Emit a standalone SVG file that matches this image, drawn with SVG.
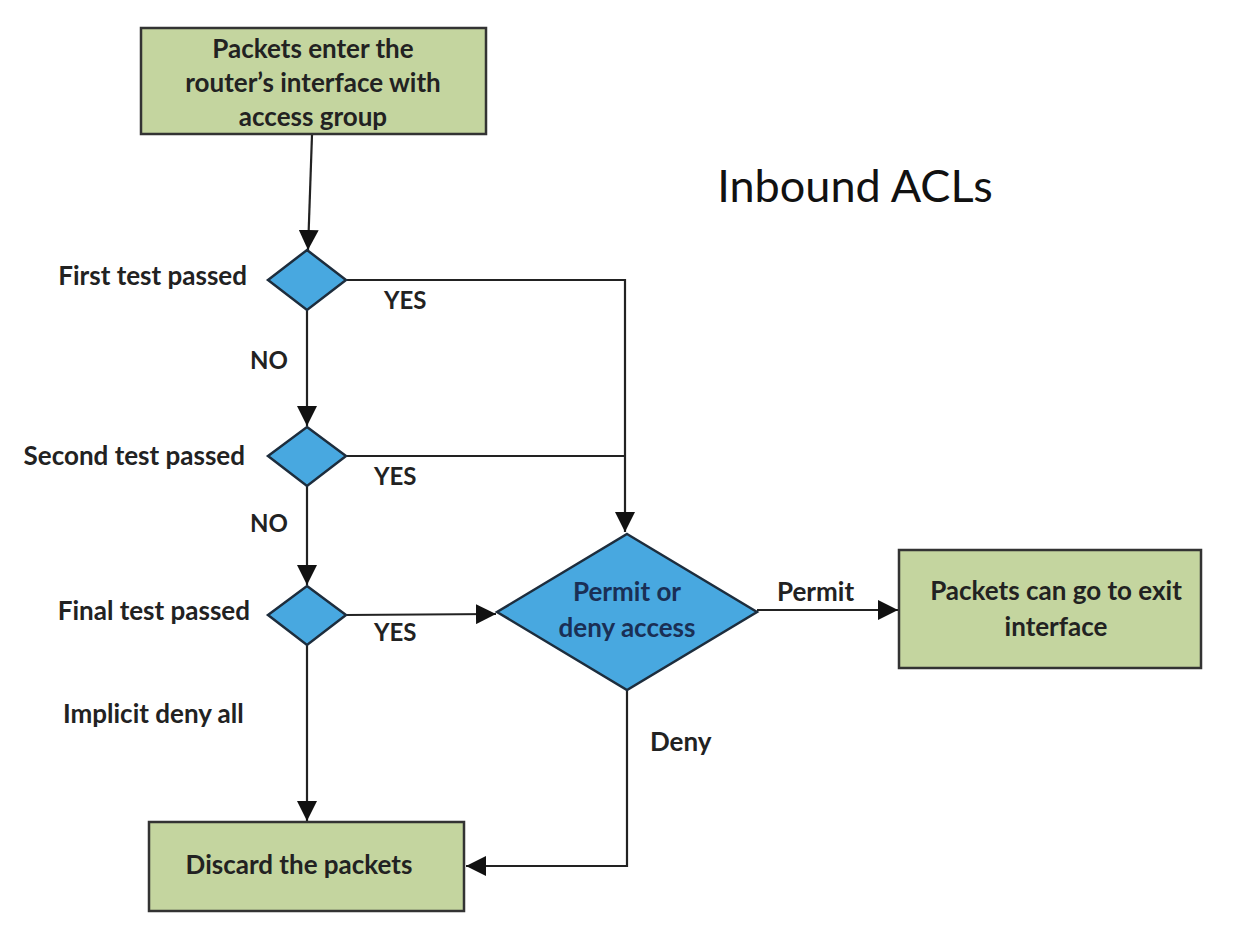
<svg xmlns="http://www.w3.org/2000/svg" width="1240" height="932" viewBox="0 0 1240 932">
<defs>
<marker id="ah" viewBox="0 0 10 10" refX="10" refY="5" markerWidth="20" markerHeight="20" markerUnits="userSpaceOnUse" orient="auto">
<path d="M0,0 L10,5 L0,10 Z" fill="#111"/>
</marker>
<style>
.box{fill:#c4d59f;stroke:#333;stroke-width:2.5}
.dia{fill:#48a8e0;stroke:#1d2d3d;stroke-width:2.5}
.ln{fill:none;stroke:#222;stroke-width:2.2}
.t{font-family:Lato,"Liberation Sans",sans-serif;font-weight:bold;font-size:26px;fill:#222}
.u{font-size:24px}
.c{text-anchor:middle}
.r{text-anchor:end}
.nv{fill:#1a2f55}
</style>
</defs>
<rect width="1240" height="932" fill="#fff"/>
<text x="855" y="202" text-anchor="middle" style="font-family:Lato,'Liberation Sans',sans-serif;font-size:45px;fill:#111">Inbound ACLs</text>
<g id="connectors">
<path class="ln" d="M312,135 L308,250" marker-end="url(#ah)"/>
<path class="ln" d="M346,280 L625,280 L625,532" marker-end="url(#ah)"/>
<path class="ln" d="M346,456 L625,456"/>
<path class="ln" d="M307,310 L307,426" marker-end="url(#ah)"/>
<path class="ln" d="M307,486 L307,585" marker-end="url(#ah)"/>
<path class="ln" d="M346,615 L496,614" marker-end="url(#ah)"/>
<path class="ln" d="M307,645 L307,821" marker-end="url(#ah)"/>
<path class="ln" d="M627,690 L627,866 L466,866" marker-end="url(#ah)"/>
<path class="ln" d="M757,610 L898,610" marker-end="url(#ah)"/>
<text class="t u" x="384" y="309">YES</text>
<text class="t u" x="250" y="369">NO</text>
<text class="t u" x="374" y="485">YES</text>
<text class="t u" x="250" y="532">NO</text>
<text class="t u" x="374" y="641">YES</text>
<text class="t" x="650" y="751">Deny</text>
<text class="t" x="777" y="601">Permit</text>
</g>
<g id="start">
<rect class="box" x="141" y="28" width="345" height="106"/>
<text class="t c" x="313" y="58">Packets enter the</text>
<text class="t c" x="313" y="92">router’s interface with</text>
<text class="t c" x="313" y="126">access group</text>
</g>
<g id="test1">
<polygon class="dia" points="307,250 346,280 307,310 268,280"/>
<text class="t r" x="247" y="285">First test passed</text>
</g>
<g id="test2">
<polygon class="dia" points="307,427 346,456 307,486 268,456"/>
<text class="t r" x="245" y="465">Second test passed</text>
</g>
<g id="test3">
<polygon class="dia" points="307,586 346,615 307,645 268,615"/>
<text class="t r" x="250" y="620">Final test passed</text>
<text class="t" x="63" y="723">Implicit deny all</text>
</g>
<g id="decision">
<polygon class="dia" points="627,534 757,612 627,690 497,612"/>
<text class="t c nv" x="627" y="601">Permit or</text>
<text class="t c nv" x="627" y="637">deny access</text>
</g>
<g id="exit">
<rect class="box" x="899" y="550" width="302" height="118"/>
<text class="t c" x="1056" y="600">Packets can go to exit</text>
<text class="t c" x="1056" y="636">interface</text>
</g>
<g id="discard">
<rect class="box" x="149" y="822" width="315" height="89"/>
<text class="t c" x="299" y="874">Discard the packets</text>
</g>
</svg>
